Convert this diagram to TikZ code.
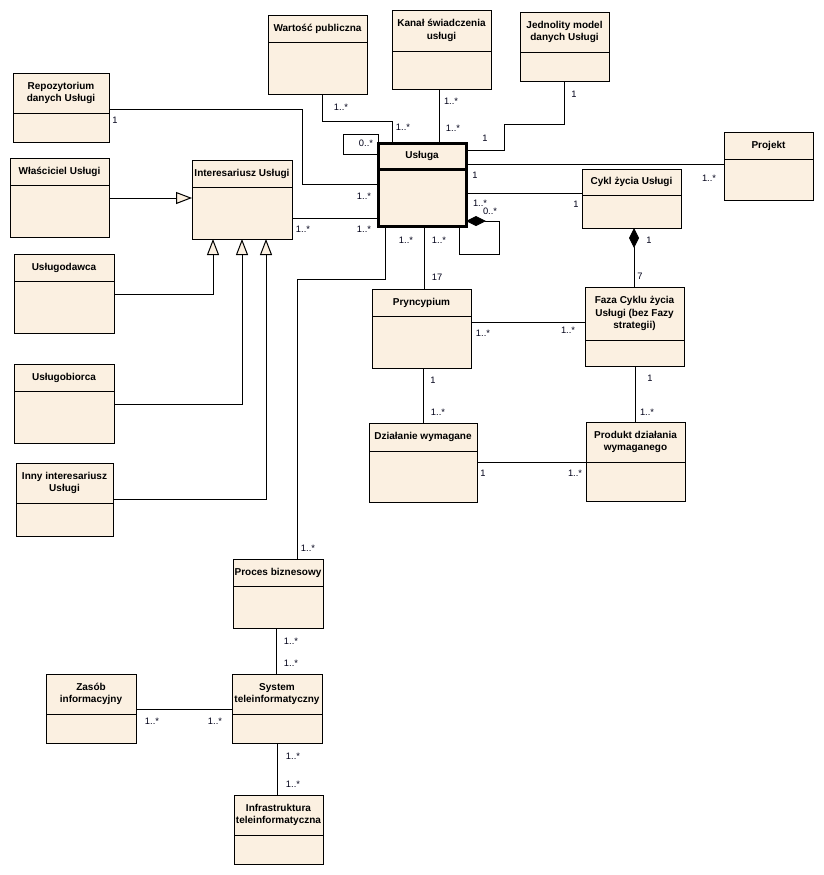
\documentclass[tikz,border=0pt]{standalone}
\usepackage{fontspec}
\setmainfont{Liberation Sans}
\usetikzlibrary{arrows.meta,fit}
\definecolor{clsfill}{HTML}{FBF0E1}
\tikzset{
  clsbox/.style={draw=black, fill=clsfill, line width=0.75pt, inner sep=0pt, outer sep=0pt},
  clsline/.style={draw=black, line width=0.75pt},
  clstitle/.style={font=\fontsize{7.5}{9.5}\selectfont\bfseries, align=center, inner sep=0pt},
  mult/.style={font=\fontsize{7}{8}\selectfont, inner sep=0pt, text=black!90!blue},
  conn/.style={draw=black, line width=0.75pt},
  gen/.style={conn, -{Triangle[length=12pt,width=9pt,fill=clsfill]}},
  comp/.style={conn, {Diamond[length=15pt,width=7.5pt]}-},
}
\newcommand\umlcls[7]{%
  \node[clsbox, fit={(#2,#3)(#4,#5)}] (#1) {};
  \draw[clsline] (#1.west |- 0,#6) -- (#1.east |- 0,#6);
  \node[clstitle] (#1-t) at ({(#2+#4)/2},{(#3+#6)/2}) {#7};
}
\begin{document}
\begin{tikzpicture}[x=0.75pt,y=-0.75pt]
\path[use as bounding box, fill=white] (0,0) rectangle (824,875);

% classes
\umlcls{wart}{268}{15}{367}{94}{42}{Wartość publiczna}
\umlcls{kanal}{392}{10}{491}{89}{51}{Kanał świadczenia\\usługi}
\umlcls{jedn}{520}{12}{609}{81}{52}{Jednolity model\\danych Usługi}
\umlcls{repo}{13}{73}{109}{142}{113}{Repozytorium\\danych Usługi}
\umlcls{wlas}{10}{158}{109}{237}{185}{Właściciel Usługi}
\umlcls{inter}{192}{160}{292}{239}{187}{Interesariusz Usługi}
\umlcls{usld}{14}{254}{114}{333}{281}{Usługodawca}
\umlcls{uslb}{14}{364}{114}{443}{391}{Usługobiorca}
\umlcls{inny}{16}{463}{113}{536}{503}{Inny interesariusz\\Usługi}
\umlcls{proj}{724}{132}{813}{200}{159}{Projekt}
\umlcls{cykl}{582}{169}{681}{228}{195}{Cykl życia Usługi}
\umlcls{pryn}{372}{289}{471}{368}{316}{Pryncypium}
\umlcls{faza}{585}{287}{684}{366}{340}{Faza Cyklu życia\\Usługi (bez Fazy\\strategii)}
\umlcls{dzial}{369}{423}{477}{502}{451}{Działanie wymagane}
\umlcls{prod}{586}{422}{685}{501}{462}{Produkt działania\\wymaganego}
\umlcls{proc}{233}{559}{323}{628}{586}{Proces biznesowy}
\umlcls{sys}{232}{674}{322}{743}{714}{System\\teleinformatyczny}
\umlcls{zasob}{46}{674}{136}{743}{714}{Zasób\\informacyjny}
\umlcls{infra}{234}{795}{323}{864}{835}{Infrastruktura\\teleinformatyczna}

% Usluga (thick)
\node[clsbox, line width=2.25pt, fit={(378,143)(466,226)}] (usl) {};
\draw[line width=2.25pt] (usl.west |- 0,169) -- (usl.east |- 0,169);
\node[clstitle] (usl-t) at (422,156) {Usługa};

% connectors
\draw[conn] (322,0 |- wart.south) -- (322,121) -- (392,121) -- (392,0 |- usl.north);
\draw[conn] (439,0 |- kanal.south) -- (439,0 |- usl.north);
\draw[conn] (564,0 |- jedn.south) -- (564,124) -- (504,124) -- (504,150) -- (usl.east |- 0,150);
\draw[conn] (usl.north west) -- (378,134) -- (343,134) -- (343,154) -- (usl.west |- 0,154);
\draw[conn] (repo.east |- 0,109) -- (302,109) -- (302,184) -- (usl.west |- 0,184);
\draw[conn] (inter.east |- 0,218) -- (usl.west |- 0,218);
\draw[gen] (wlas.east |- 0,198) -- (inter.west |- 0,198);
\draw[gen] (usld.east |- 0,294) -- (213,294) -- (213,0 |- inter.south);
\draw[gen] (uslb.east |- 0,404) -- (242,404) -- (242,0 |- inter.south);
\draw[gen] (inny.east |- 0,499) -- (266,499) -- (266,0 |- inter.south);
\draw[conn] (385,0 |- usl.south) -- (385,279) -- (297,279) -- (297,0 |- proc.north);
\draw[conn] (424,0 |- usl.south) -- (424,0 |- pryn.north);
\draw[comp] (usl.east |- 0,221) -- (499,221) -- (499,254) -- (459,254) -- (459,0 |- usl.south);
\draw[conn] (usl.east |- 0,164) -- (proj.west |- 0,164);
\draw[conn] (usl.east |- 0,193) -- (cykl.west |- 0,193);
\draw[comp] (634,0 |- cykl.south) -- (634,0 |- faza.north);
\draw[conn] (pryn.east |- 0,322) -- (faza.west |- 0,322);
\draw[conn] (423,0 |- pryn.south) -- (423,0 |- dzial.north);
\draw[conn] (635,0 |- faza.south) -- (635,0 |- prod.north);
\draw[conn] (dzial.east |- 0,462) -- (prod.west |- 0,462);
\draw[conn] (276,0 |- proc.south) -- (276,0 |- sys.north);
\draw[conn] (zasob.east |- 0,709) -- (sys.west |- 0,709);
\draw[conn] (277,0 |- sys.south) -- (277,0 |- infra.north);

% multiplicities
\node[mult] (la1) at (341,107) {1..*};
\node[mult] (la2) at (403,127) {1..*};
\node[mult] (lb1) at (451,101) {1..*};
\node[mult] (lb2) at (453,128) {1..*};
\node[mult] (lc1) at (574,94) {1};
\node[mult] (lc2) at (485,138) {1};
\node[mult] (ld) at (366,143) {0..*};
\node[mult] (le1) at (115,120) {1};
\node[mult] (le2) at (364,196) {1..*};
\node[mult] (lf1) at (303,229) {1..*};
\node[mult] (lf2) at (364,229) {1..*};
\node[mult] (lk1) at (406,240) {1..*};
\node[mult] (lk2) at (308,548) {1..*};
\node[mult] (ll1) at (439,240) {1..*};
\node[mult] (ll2) at (437,277) {17};
\node[mult] (lm1) at (480,203) {1..*};
\node[mult] (lm2) at (490,211) {0..*};
\node[mult] (ln) at (709,178) {1..*};
\node[mult] (lo1) at (475,175) {1};
\node[mult] (lo2) at (576,204) {1};
\node[mult] (lp1) at (649,240) {1};
\node[mult] (lp2) at (640,276) {7};
\node[mult] (lq1) at (483,333) {1..*};
\node[mult] (lq2) at (568,330) {1..*};
\node[mult] (lr1) at (433,380) {1};
\node[mult] (lr2) at (438,412) {1..*};
\node[mult] (ls1) at (650,378) {1};
\node[mult] (ls2) at (647,412) {1..*};
\node[mult] (lt1) at (483,473) {1};
\node[mult] (lt2) at (575,473) {1..*};
\node[mult] (lu1) at (291,641) {1..*};
\node[mult] (lu2) at (291,663) {1..*};
\node[mult] (lv1) at (152,721) {1..*};
\node[mult] (lv2) at (215,721) {1..*};
\node[mult] (lw1) at (293,756) {1..*};
\node[mult] (lw2) at (293,784) {1..*};
\end{tikzpicture}
\end{document}
